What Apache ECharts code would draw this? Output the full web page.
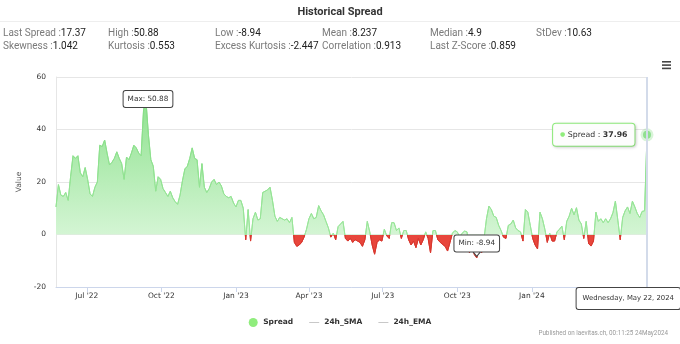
<!DOCTYPE html>
<html><head><meta charset="utf-8">
<script src="https://cdn.jsdelivr.net/npm/echarts@6/dist/echarts.min.js"></script>
<style>html,body{margin:0;padding:0;background:#fff}#c{width:680px;height:344px}</style>
</head><body><div id="c"></div>
<script>
// ---- data ----
const endDate = '2024-05-22';
const stepDays = 3;
const spreadValues = [
  10.5, 19, 15, 14.5, 16, 13, 22, 30, 29, 30, 23.5, 22,
  25.5, 21, 15.5, 14.5, 18, 20, 34, 33.5, 36, 31, 26.5, 27.5,
  29, 31.5, 29, 27, 21, 29.5, 28.5, 31, 34, 33, 31, 30,
  47.5, 50.88, 38, 28.5, 26, 16.5, 22, 21, 17.5, 16, 14.5, 16.5,
  14, 12.5, 11.5, 15, 20.5, 25, 26, 29, 33, 29, 28.5, 18,
  27, 18, 16, 17.5, 20, 21, 19, 20, 18.5, 15.5, 14.5, 14,
  14.5, 12, 10.5, 13, 13, 10, -2, 9.5, -2.5, 6, 8.5, 5.5,
  6, 16, 16.5, 17, 18, 13, 7, 5, 6.5, 6, 5.5, 6,
  4.5, 6.5, -3, -4.5, -4, -3, -1, 2, 6, 8, 6, 6.5,
  11, 9, 7.5, 5, 2.5, -1, 0.5, -2, 3, 4, 5, -1.5,
  -2.5, -1.5, -3, -2, -2.5, -3, -4.5, -2, 5, 1, -4, -7.5,
  -3, -2, -2.5, 2, -0.5, -1.5, 4.5, 4.5, 1.5, 2.5, -1.5, 1.5,
  1.5, -2, -4, -2.5, -5, -1.5, -4, -2, 1, -1.5, -7, 1.5,
  1.5, -2, -3, -3.8, -4.5, -6.3, -3, 0.5, 1.5, 1, -1, 0.5,
  1.3, 1, -7, -4, -7.6, -8.94, -5, -7, -1.5, 6, 10.8, 9.5,
  7, 6.5, 3.5, 1.5, -1, -1.5, 3.5, 4, 5.5, 2.5, 1.5, 1,
  -2.5, 9.5, 8.5, 3.5, -1.5, -4, -5.5, 8.5, 6, 2, -3, 0.5,
  -2.5, -2.5, 1, 2, 3.2, -2, 5, 7, 10, 7.5, 10.2, 5.5,
  4, -1.5, 5, -3.5, -4.4, -2.5, 8.5, 5, 6, 4.5, 6, 4.5,
  6, 8.3, 12.7, 5.5, -2, 6.5, 9, 10.5, 8, 12.7, 10.5, 8,
  6.5, 8.8, 9, 37.96
];
const tickDates = ['2022-07-01','2022-10-01','2023-01-01','2023-04-01','2023-07-01','2023-10-01','2024-01-01','2024-04-01'];
const yTicks = { min: -20, max: 60, interval: 20 };
const seriesNames = ['Spread', '24h_SMA', '24h_EMA'];
const statNames = [
  ['Last Spread', 'High', 'Low', 'Mean', 'Median', 'StDev'],
  ['Skewness', 'Kurtosis', 'Excess Kurtosis', 'Correlation', 'Last Z-Score']
];
const statValues = [
  ['17.37', '50.88', '-8.94', '8.237', '4.9', '10.63'],
  ['1.042', '0.553', '-2.447', '0.913', '0.859']
];
const titleText = 'Historical Spread';
const creditText = 'Published on laevitas.ch, 00:11:25 24May2024';
const monthShort = ['Jan','Feb','Mar','Apr','May','Jun','Jul','Aug','Sep','Oct','Nov','Dec'];
const dayLong = ['Sunday','Monday','Tuesday','Wednesday','Thursday','Friday','Saturday'];

// ---- build ----
const DAY = 86400000;
const endTs = Date.parse(endDate);
const N = spreadValues.length;
const dates = spreadValues.map((_, i) => endTs - (N - 1 - i) * stepDays * DAY);
const seriesData = spreadValues.map((v, i) => [dates[i], v]);
const tickTs = tickDates.map(s => Date.parse(s));
const vMax = Math.max(...spreadValues);
const lastTs = dates[N - 1], lastVal = spreadValues[N - 1];

const HC = 'DejaVu Sans';
const green = '#90ed7d';

function fmtTick(v) {
  const d = new Date(v);
  return monthShort[d.getUTCMonth()] + " '" + String(d.getUTCFullYear()).slice(2);
}
function fmtLong(v) {
  const d = new Date(v);
  return dayLong[d.getUTCDay()] + ', ' + monthShort[d.getUTCMonth()] + ' ' + d.getUTCDate() + ', ' + d.getUTCFullYear();
}

const colX = [3, 108, 215, 322, 430, 536];
const rowY = [33, 46];
const statGraphics = [];
statNames.forEach((row, r) => row.forEach((name, c) => {
  statGraphics.push({
    type: 'text', x: colX[c], y: rowY[r],
    style: {
      text: '{l|' + name + ' :}{v|' + statValues[r][c] + '}',
      verticalAlign: 'middle', align: 'left',
      rich: {
        l: { fill: '#7a7a7a', fontFamily: 'Roboto', fontSize: 10 },
        v: { fill: '#222', fontFamily: 'Roboto', fontSize: 10 }
      }
    }
  });
}));

const chart = echarts.init(document.getElementById('c'), null, { renderer: 'canvas' });
const labelBox = {
  backgroundColor: '#fff', borderColor: '#444', borderWidth: 1, borderRadius: 2,
  padding: [3, 4], lineHeight: 10, fontFamily: HC, fontSize: 7.3, color: '#333'
};
chart.setOption({
  animation: false,
  backgroundColor: '#fff',
  grid: { left: 56, right: 33, top: 77, bottom: 57 },
  graphic: [
    { type: 'text', x: 340, y: 12, style: { text: titleText, align: 'center', verticalAlign: 'middle', fill: '#333', fontFamily: 'Roboto', fontWeight: 'bold', fontSize: 11 } },
    { type: 'line', shape: { x1: 0, y1: 21.5, x2: 680, y2: 21.5 }, style: { stroke: '#eeeeee', lineWidth: 1 } },
    ...statGraphics,
    { type: 'rect', shape: { x: 662, y: 61, width: 9, height: 1.6 }, style: { fill: '#444' } },
    { type: 'rect', shape: { x: 662, y: 64.3, width: 9, height: 1.6 }, style: { fill: '#444' } },
    { type: 'rect', shape: { x: 662, y: 67.6, width: 9, height: 1.6 }, style: { fill: '#444' } },
    { type: 'text', x: 668, y: 333, style: { text: creditText, align: 'right', verticalAlign: 'middle', fill: '#999', fontFamily: 'Roboto', fontSize: 6.3 } }
  ],
  legend: {
    top: 313, left: 'center', itemWidth: 10, itemHeight: 9, itemGap: 16,
    itemStyle: { borderWidth: 0 },
    textStyle: { fontFamily: HC, fontSize: 7.5, fontWeight: 'bold', color: '#333' },
    data: [
      { name: seriesNames[0], icon: 'circle', itemStyle: { color: green } },
      { name: seriesNames[1], icon: 'path://M0,0H10V1H0Z', itemStyle: { color: '#c8c8c8' } },
      { name: seriesNames[2], icon: 'path://M0,0H10V1H0Z', itemStyle: { color: '#c8c8c8' } }
    ]
  },
  xAxis: {
    type: 'value', min: dates[0], max: lastTs,
    axisLine: { onZero: false, lineStyle: { color: '#ccd6eb' } },
    axisTick: { show: true, length: 5, customValues: tickTs, lineStyle: { color: '#ccd6eb' } },
    axisLabel: { customValues: tickTs, formatter: fmtTick, margin: 5, fontFamily: HC, fontSize: 7.5, color: '#333' },
    splitLine: { show: false },
    axisPointer: {
      show: true, type: 'line', value: lastTs, status: 'show', snap: false, triggerTooltip: false,
      lineStyle: { color: '#d3dbea', width: 2, type: 'solid' },
      label: {
        show: true, formatter: p => fmtLong(p.value), margin: 1,
        backgroundColor: '#fff', borderColor: '#444', borderWidth: 1, borderRadius: 2,
        color: '#333', fontFamily: HC, fontSize: 6.9, padding: [7, 6]
      }
    }
  },
  yAxis: {
    type: 'value', min: yTicks.min, max: yTicks.max, interval: yTicks.interval,
    name: 'Value', nameLocation: 'middle', nameGap: 30,
    nameTextStyle: { fontFamily: HC, fontSize: 7.5, color: '#555' },
    axisLine: { show: true, lineStyle: { color: '#e6e6e6' } },
    axisTick: { show: false },
    axisLabel: { fontFamily: HC, fontSize: 7.5, color: '#333', margin: 10 },
    splitLine: { lineStyle: { color: '#e6e6e6' } }
  },
  series: [
    {
      name: seriesNames[0], type: 'line', data: seriesData, color: green,
      showSymbol: false, symbol: 'none',
      lineStyle: { width: 1, color: green },
      areaStyle: { opacity: 1, color: green },
      markPoint: {
        silent: true,
        data: [
          {
            type: 'max', symbol: 'circle', symbolSize: 1, itemStyle: { color: 'rgba(0,0,0,0)' },
            label: Object.assign({ show: true, position: 'inside', offset: [2, -2], formatter: p => 'Max: ' + p.value }, labelBox)
          },
          {
            type: 'min', symbol: 'path://M0,0L10,0L5,6Z', symbolSize: [8, 5], symbolOffset: [0, -4],
            itemStyle: { color: '#fff', borderColor: '#444', borderWidth: 1 },
            label: { show: false }
          },
          {
            type: 'min', symbol: 'circle', symbolSize: 1, itemStyle: { color: 'rgba(0,0,0,0)' },
            label: Object.assign({ show: true, position: 'inside', offset: [0, -14.5], formatter: p => 'Min: ' + p.value }, labelBox)
          },
          {
            coord: [lastTs, lastVal], value: lastVal, symbol: 'circle', symbolSize: 8,
            itemStyle: { color: '#8fe08f', borderColor: 'rgba(143,224,143,0.35)', borderWidth: 5 },
            label: {
              show: true, position: 'left', distance: 6,
              formatter: p => '{d|●} Spread : {b|' + p.value + '}',
              backgroundColor: 'rgba(255,255,255,0.95)', borderColor: green, borderWidth: 1, borderRadius: 3,
              padding: [6, 7], lineHeight: 10, fontFamily: HC, fontSize: 7.8, color: '#333',
              shadowBlur: 3, shadowColor: 'rgba(0,0,0,0.15)', shadowOffsetX: 1, shadowOffsetY: 1,
              rich: {
                d: { color: green, fontSize: 6, fontFamily: HC },
                b: { fontWeight: 'bold', fontFamily: HC, fontSize: 7.8, color: '#333' }
              }
            }
          }
        ]
      }
    },
    { name: seriesNames[1], type: 'line', data: [], color: '#c8c8c8', showSymbol: false },
    { name: seriesNames[2], type: 'line', data: [], color: '#c8c8c8', showSymbol: false }
  ]
});

// colour split at zero: gradient in pixel space from the y axis scale
const pTop = chart.convertToPixel({ yAxisIndex: 0 }, vMax);
const pZero = chart.convertToPixel({ yAxisIndex: 0 }, 0) + 0.8;
const pBot = chart.convertToPixel({ yAxisIndex: 0 }, yTicks.min);
const z = (pZero - pTop) / (pBot - pTop);
const mk = (c0, c1, c2) => new echarts.graphic.LinearGradient(0, pTop, 0, pBot, [
  { offset: 0, color: c0 }, { offset: z - 0.0005, color: c1 },
  { offset: z, color: c2 }, { offset: 1, color: c2 }
], true);
chart.setOption({
  series: [{
    lineStyle: { color: mk('#84dd84', '#9be69b', '#d9372e') },
    areaStyle: { color: mk('#8fe28f', '#d4f5d4', '#e8463c') }
  }]
});
</script>
</body></html>
